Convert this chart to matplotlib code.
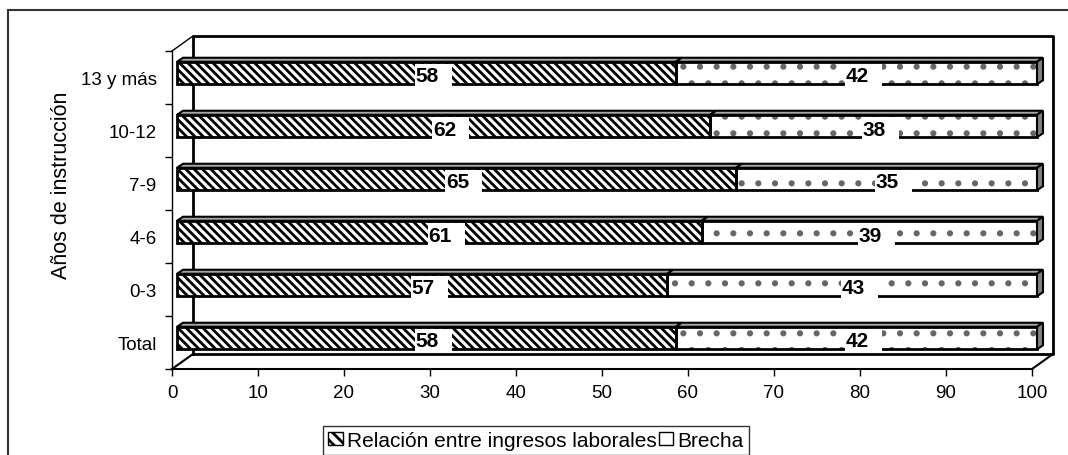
import matplotlib
matplotlib.use('Agg')
import matplotlib.pyplot as plt
import matplotlib.transforms as mtransforms
from matplotlib.patches import Rectangle, Polygon, Patch
from matplotlib.lines import Line2D

plt.rcParams['font.family'] = ['Liberation Sans', 'DejaVu Sans']
plt.rcParams['hatch.linewidth'] = 2.0

# datos (de abajo hacia arriba)
categorias = ['Total', '0-3', '4-6', '7-9', '10-12', '13 y más']
relacion = [58, 57, 61, 65, 62, 58]
brecha = [42, 43, 39, 35, 38, 42]
serie_nombres = ['Relación entre ingresos laborales', 'Brecha']
eje_y_titulo = 'Años de instrucción'
x_ticks = list(range(0, 101, 10))

W, H = 1068, 456
fig = plt.figure(figsize=(W / 100, H / 100), dpi=100)
fig.patch.set_facecolor('white')

# plano frontal del grafico 3D
left, right, top, bottom = 172, 1032, 52, 370
ax = fig.add_axes([left / W, 1 - bottom / H, (right - left) / W, (bottom - top) / H])
ax.set_xlim(0, 100)
ax.set_ylim(0, len(categorias))
ax.set_facecolor('none')
for s in ['top', 'right']:
	ax.spines[s].set_visible(False)
ax.spines['left'].set_linewidth(1.0)
ax.spines['bottom'].set_linewidth(1.5)

# ticks
ax.set_xticks(x_ticks)
ax.set_xticklabels([str(t) for t in x_ticks], fontsize=13.5)
ax.tick_params(axis='x', direction='out', length=5, width=1, pad=6)
ax.set_yticks(range(len(categorias) + 1))
ax.set_yticklabels([])
ax.tick_params(axis='y', which='major', direction='out', length=5, width=1)
ax.set_yticks([i + 0.5 for i in range(len(categorias))], minor=True)
ax.set_yticklabels(categorias, minor=True, fontsize=13.5)
ax.tick_params(axis='y', which='minor', length=0, pad=11)
ax.set_ylabel(eje_y_titulo, fontsize=15.5)
ax.yaxis.set_label_coords(-0.116, 0.58)

# paredes 3D (profundidad en pixeles)
dpx, dpy = 21, 15
back = mtransforms.offset_copy(ax.transAxes, fig=fig, x=dpx, y=dpy, units='dots')
ax.plot([0, 0, 1, 1, 0], [0, 1, 1, 0, 0], color='black', lw=2, transform=back, clip_on=False)
for (xa, ya) in [(0, 0), (0, 1), (1, 0)]:
	ax.plot([xa, xa + dpx / ax.bbox.width], [ya, ya + dpy / ax.bbox.height],
			color='black', lw=1.5 if ya == 0 else 1, transform=ax.transAxes, clip_on=False)

# barras
ux = ax.bbox.width / 100.0
uy = ax.bbox.height / len(categorias)
barra = mtransforms.offset_copy(ax.transData, fig=fig, x=5, y=4.5, units='dots')
alto = 22.5 / uy
bdx, bdy = 6 / ux, 4 / uy

series = [
	(relacion, [0] * len(relacion), '\\\\\\\\', 'black'),
	(brecha, relacion, '.', '#666666'),
]
for s_i, (vals, starts, hatch, hcol) in enumerate(series):
	for i, (v, x0) in enumerate(zip(vals, starts)):
		y0 = i + 0.5 - alto / 2
		y1 = y0 + alto
		x1 = x0 + v
		ax.add_patch(Rectangle((x0, y0), v, alto, facecolor='white', edgecolor=hcol,
							   hatch=hatch, lw=0, transform=barra, clip_on=False, zorder=3))
		ax.add_patch(Rectangle((x0, y0), v, alto, facecolor='none', edgecolor='black',
							   lw=2, transform=barra, clip_on=False, zorder=4))
		ax.add_patch(Polygon([(x0, y1), (x1, y1), (x1 + bdx, y1 + bdy), (x0 + bdx, y1 + bdy)],
							 closed=True, facecolor='#a8a8a8', edgecolor='black', lw=1.5,
							 transform=barra, clip_on=False, zorder=4))
		if s_i == 1:
			ax.add_patch(Polygon([(x1, y0), (x1 + bdx, y0 + bdy), (x1 + bdx, y1 + bdy), (x1, y1)],
								 closed=True, facecolor='#808080', edgecolor='black', lw=1.5,
								 transform=barra, clip_on=False, zorder=4))
		# etiqueta con caja blanca (como en Excel, desplazada a la derecha)
		xc = x0 + v / 2
		ax.add_patch(Rectangle((xc - 11.5 / ux, y0 - 2 / uy), 37 / ux, alto, facecolor='white',
							   edgecolor='none', transform=barra, clip_on=False, zorder=5))
		ax.text(xc + 1 / ux, i + 0.5 - 3 / uy, str(v), ha='center', va='center', fontsize=15,
				fontweight='bold', transform=barra, zorder=6)

# leyenda
handles = [Patch(facecolor='white', edgecolor='black', hatch='\\\\\\'),
		   Patch(facecolor='white', edgecolor='black')]
leg = fig.legend(handles, serie_nombres, loc='upper left', bbox_to_anchor=(323 / W, 1 - 427 / H),
				 ncol=2, fontsize=15, frameon=True, fancybox=False, edgecolor='black',
				 handlelength=0.7, handleheight=0.6, handletextpad=0.2, columnspacing=0.1,
				 borderpad=0.25, borderaxespad=0)
leg.get_frame().set_linewidth(1)

# borde del area del grafico
fig.add_artist(Line2D([8 / W, 8 / W], [0, 1 - 11 / H], color='#333333', lw=1.5))
fig.add_artist(Line2D([8 / W, 1], [1 - 11 / H, 1 - 11 / H], color='#333333', lw=1.5))

fig.savefig('out.png', dpi=100)
